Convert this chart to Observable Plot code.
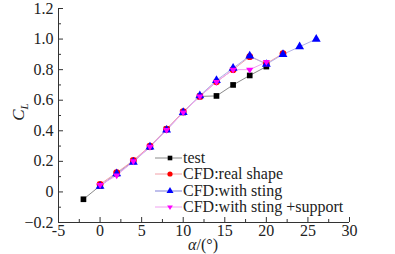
<!DOCTYPE html>
<html><head><meta charset="utf-8">
<script src="https://cdn.jsdelivr.net/npm/d3@7"></script>
<script src="https://cdn.jsdelivr.net/npm/@observablehq/plot@0.6"></script>
<style>
html,body{margin:0;padding:0;background:#fff;}
#chart{position:relative;width:395px;height:254px;}
</style>
</head><body><div id="chart"></div>
<script>
const alphaTest = [-2,0,2,4,6,8,10,12,14,16,18,20];
const clTest = [-0.048,0.04,0.12,0.2,0.295,0.41,0.52,0.625,0.628,0.70,0.762,0.82];
const alphaReal = [0,2,4,6,8,10,12,14,16,18,20,22];
const clReal = [0.05,0.126,0.206,0.30,0.41,0.525,0.625,0.72,0.80,0.885,0.84,0.905];
const alphaSting = [0,2,4,6,8,10,12,14,16,18,20,22,24,26];
const clSting = [0.037,0.12,0.195,0.295,0.405,0.52,0.63,0.73,0.81,0.89,0.835,0.90,0.95,1.0];
const alphaSupport = [0,2,4,6,8,10,12,14,16,18,20];
const clSupport = [0.045,0.108,0.2,0.295,0.405,0.52,0.625,0.72,0.80,0.80,0.85];
const seriesNames = ["test","CFD:real shape","CFD:with sting","CFD:with sting +support"];
const xTicks = [-5,0,5,10,15,20,25,30];
const yTicks = [-0.2,0,0.2,0.4,0.6,0.8,1.0,1.2];
const xMinor = [-2.5,2.5,7.5,12.5,17.5,22.5,27.5];
const yMinor = [-0.1,0.1,0.3,0.5,0.7,0.9,1.1];

const FONT = '"Liberation Serif","Times New Roman",serif';
const triangleDown = {
  draw(context, size) {
    const r = Math.sqrt(size) * 0.62;
    context.moveTo(-r, -r*0.55);
    context.lineTo(r, -r*0.55);
    context.lineTo(0, r*1.05);
    context.closePath();
  }
};
const mk = (xs, ys, name) => xs.map((a,i) => ({alpha:a, cl:ys[i], series:name}));
const test = mk(alphaTest, clTest, seriesNames[0]);
const real = mk(alphaReal, clReal, seriesNames[1]);
const sting = mk(alphaSting, clSting, seriesNames[2]);
const support = mk(alphaSupport, clSupport, seriesNames[3]);

const styles = [
  {data:test, line:"#8a8a8a", fill:"#000", symbol:"square", r:3.2, lw:1},
  {data:real, line:"#f2a0a8", fill:"#ff0000", symbol:"circle", r:3.4, lw:1},
  {data:sting, line:"#b0b0e8", fill:"#0000ff", symbol:"triangle", r:3.3, lw:1.6},
  {data:support, line:"#f0a0f0", fill:"#ff00ff", symbol:triangleDown, r:3.3, lw:1}
];

const W = 395, H = 254, mL = 58, mR = 46, mT = 8, mB = 32;
const fw = W - mL - mR, fh = H - mT - mB;

const marks = [];
for (const s of styles) marks.push(Plot.line(s.data, {x:"alpha", y:"cl", stroke:s.line, strokeWidth:1}));
for (const s of styles) marks.push(Plot.dot(s.data, {x:"alpha", y:"cl", fill:s.fill, stroke:"none", symbol:s.symbol, r:s.r}));

const plot = Plot.plot({
  width: W, height: H,
  marginLeft: mL, marginRight: mR, marginTop: mT, marginBottom: mB,
  style: `font-family:${FONT};font-size:16px;color:#222;background:#fff;`,
  x: {domain:[-5,30], label:null},
  y: {domain:[-0.2,1.2], label:null},
  marks: [
    Plot.axisX(xTicks, {tickSize:0, tickPadding:2, fontSize:16, fontFamily:FONT, tickFormat:d=>String(d), fill:"#222"}),
    Plot.axisY(yTicks, {tickSize:0, tickPadding:5, fontSize:16, fontFamily:FONT, tickFormat:d=>d===0?"0":d3.format(".1f")(d), fill:"#222"}),
    Plot.tickX(xTicks, {x:d=>d, stroke:"#333", insetTop: fh-5}),
    Plot.tickX(xMinor, {x:d=>d, stroke:"#333", insetTop: fh-3}),
    Plot.tickY(yTicks, {y:d=>d, stroke:"#333", insetRight: fw-5}),
    Plot.tickY(yMinor, {y:d=>d, stroke:"#333", insetRight: fw-3}),
    Plot.ruleX([-5], {stroke:"#333"}),
    Plot.ruleY([-0.2], {stroke:"#333"}),
    ...marks
  ]
});
document.getElementById("chart").appendChild(plot);

const svg = d3.select(plot);
// y label C_L
const yl = svg.append("text").attr("transform","translate(24,112) rotate(-90)")
  .attr("text-anchor","middle").attr("font-size",17).attr("fill","#222").attr("font-style","italic").attr("font-family",FONT);
yl.append("tspan").text("C");
yl.append("tspan").attr("font-size",11).attr("dy",4).text("L");
// x label
const xl = svg.append("text").attr("x",203).attr("y",250).attr("text-anchor","middle").attr("font-size",16).attr("fill","#222").attr("font-family",FONT);
xl.append("tspan").attr("font-style","italic").text("α");
xl.append("tspan").text("/(°)");

// legend
const lg = svg.append("g");
const legY = [158,174,191,207];
styles.forEach((s,i) => {
  lg.append("line").attr("x1",155).attr("x2",182).attr("y1",legY[i]).attr("y2",legY[i]).attr("stroke",s.line).attr("stroke-width",s.lw);
  const sym = typeof s.symbol === "string" ? {square:d3.symbolSquare, circle:d3.symbolCircle, triangle:d3.symbolTriangle}[s.symbol] : s.symbol;
  lg.append("path").attr("transform",`translate(170,${legY[i]})`).attr("d", d3.symbol(sym, Math.PI*2.6*2.6)()).attr("fill",s.fill);
  lg.append("text").attr("x",183).attr("y",legY[i]+5).attr("text-anchor","start").attr("font-size",16).attr("fill","#222").attr("font-family",FONT).text(seriesNames[i]);
});
</script>
</body></html>
